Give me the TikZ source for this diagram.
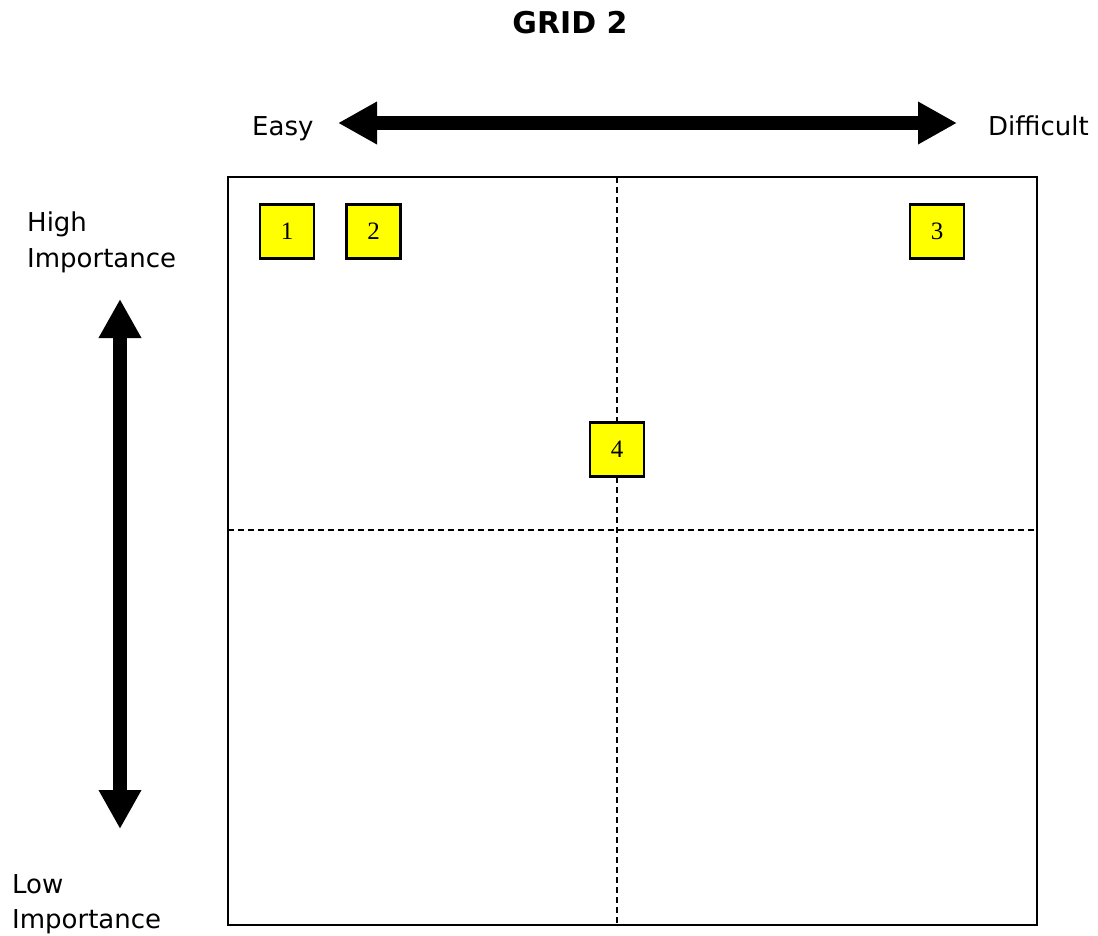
\documentclass[tikz,border=0pt]{standalone}
\usepackage{fontspec}
\setmainfont{DejaVu Sans}
\newfontfamily\numfont{Liberation Serif}
\usetikzlibrary{arrows.meta}
\definecolor{boxyellow}{RGB}{255,255,0}
\tikzset{
  lbl/.style={inner sep=0pt, anchor=base west, font=\fontsize{26}{31}\selectfont},
  ttl/.style={inner sep=0pt, anchor=base, font=\fontsize{30}{36}\selectfont\bfseries},
  ybox/.style={draw=black, line width=2.5pt, fill=boxyellow, minimum size=54pt, inner sep=0pt, font=\numfont\fontsize{25}{30}\selectfont},
  bigarrow/.style={line width=14pt, {Triangle[length=39pt,width=40pt]}-{Triangle[length=39pt,width=40pt]}},
  gridline/.style={line width=1.8pt, dash pattern=on 6pt off 4pt},
}
\begin{document}
\begin{tikzpicture}[x=1pt,y=-1pt]
\useasboundingbox (0,0) rectangle (1098,935);
\node[ttl] (title) at (570,33) {GRID 2};
% horizontal arrow
\coordinate (hl) at (338,123);
\coordinate (hr) at (957,123);
\draw[bigarrow] (hl) -- (hr);
\node[lbl] (easy) at (252,135) {Easy};
\node[lbl] (diff) at (988,135) {Difficult};
% vertical arrow
\coordinate (vt) at (120,299);
\coordinate (vb) at (120,829);
\draw[bigarrow] (vt) -- (vb);
\node[lbl] (high1) at (27,231) {High};
\node[lbl] (high2) at (27,267) {Importance};
\node[lbl] (low1) at (12,893) {Low};
\node[lbl] (low2) at (12,928) {Importance};
% grid
\coordinate (g1) at (228,177);
\coordinate (g2) at (1037,925);
\draw[line width=2pt] (g1) rectangle (g2);
\coordinate (vtop) at (617,177);
\coordinate (vbot) at (617,925);
\coordinate (hleft) at (228,530);
\coordinate (hright) at (1037,530);
\draw[gridline] (vtop) -- (vbot);
\draw[gridline] (hleft) -- (hright);
% boxes
\node[ybox] (b1) at (287,231.5) {1};
\node[ybox] (b2) at (373.5,231.5) {2};
\node[ybox] (b3) at (937,231.5) {3};
\node[ybox] (b4) at (617,449.5) {4};
\end{tikzpicture}
\end{document}
